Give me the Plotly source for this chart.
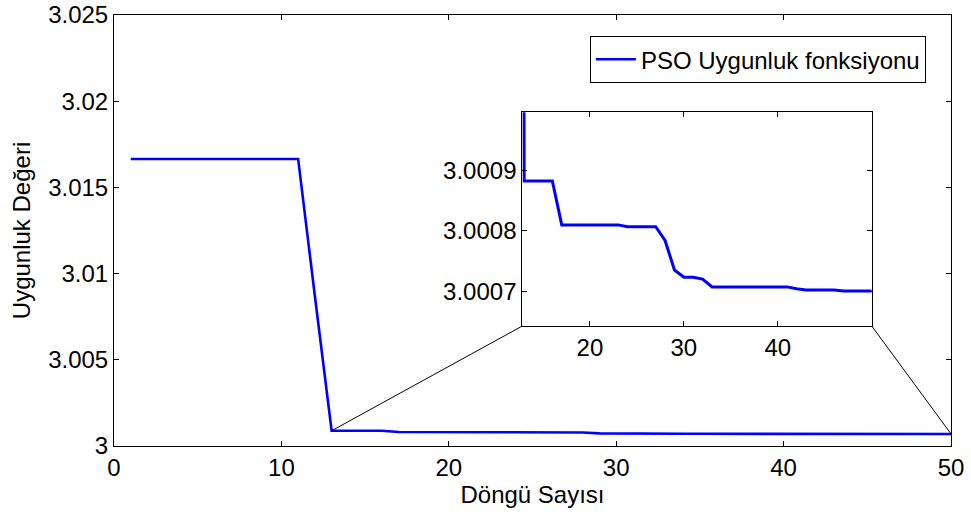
import plotly.graph_objects as go

# ---- data ----
iterations = list(range(1, 51))
fitness = (
    [3.01665] * 11 +                 # 1-11
    [3.0087] +                       # 12
    [3.000883] * 4 +                 # 13-16
    [3.000810] * 7 +                 # 17-23
    [3.000807] * 4 +                 # 24-27
    [3.000784, 3.000735, 3.000723, 3.000723, 3.000720] +  # 28-32
    [3.000707] * 9 +                 # 33-41
    [3.000704] +                     # 42
    [3.000702] * 4 +                 # 43-46
    [3.000700] * 4                   # 47-50
)
series_name = "PSO Uygunluk fonksiyonu"

main_x_range = [0, 50]
main_y_range = [3.0, 3.025]
main_x_ticks = [0, 10, 20, 30, 40, 50]
main_y_ticks = [3.0, 3.005, 3.01, 3.015, 3.02, 3.025]
main_y_ticktext = ["3", "3.005", "3.01", "3.015", "3.02", "3.025"]

inset_x_range = [12.8, 50]
inset_y_range = [3.000642, 3.000997]
inset_x_ticks = [20, 30, 40]
inset_y_ticks = [3.0007, 3.0008, 3.0009]
inset_y_ticktext = ["3.0007", "3.0008", "3.0009"]

x_title = "Döngü Sayısı"
y_title = "Uygunluk Değeri"

# ---- layout params ----
W, H = 971, 518
ML, MR, MT, MB = 114, 20, 15, 72
inset_dom_x = [0.4878, 0.9053]
inset_dom_y = [0.2784, 0.7742]
FONT = "Arial, Liberation Sans, sans-serif"
FS = 24
BLUE = "#0000FF"

fig = go.Figure()
fig.add_trace(go.Scatter(x=iterations, y=fitness, mode="lines", name=series_name,
                         line=dict(color=BLUE, width=2.6), xaxis="x", yaxis="y"))
fig.add_trace(go.Scatter(x=iterations, y=fitness, mode="lines", name=series_name,
                         showlegend=False, line=dict(color=BLUE, width=3),
                         xaxis="x2", yaxis="y2", cliponaxis=True))

axis_common = dict(showgrid=False, zeroline=False, showline=True, linecolor="black",
                   linewidth=1, mirror="ticks", ticks="inside", ticklen=5,
                   tickcolor="black", tickfont=dict(family=FONT, size=FS, color="black"))

fig.update_layout(
    width=W, height=H,
    margin=dict(l=ML, r=MR, t=MT, b=MB, autoexpand=False),
    paper_bgcolor="white", plot_bgcolor="white",
    font=dict(family=FONT, size=FS, color="black"),
    xaxis=dict(range=main_x_range, tickvals=main_x_ticks, domain=[0, 1],
               title=dict(text=x_title, font=dict(size=FS), standoff=4), **axis_common),
    yaxis=dict(range=main_y_range, tickvals=main_y_ticks, ticktext=main_y_ticktext,
               domain=[0, 1], title=dict(text=y_title, font=dict(size=FS), standoff=10),
               **axis_common),
    xaxis2=dict(range=inset_x_range, tickvals=inset_x_ticks, domain=inset_dom_x,
                anchor="y2", **axis_common),
    yaxis2=dict(range=inset_y_range, tickvals=inset_y_ticks, ticktext=inset_y_ticktext,
                domain=inset_dom_y, anchor="x2", **axis_common),
    legend=dict(x=0.970, y=0.951, xanchor="right", yanchor="top",
                bgcolor="white", bordercolor="black", borderwidth=1,
                font=dict(family=FONT, size=FS, color="black"),
                itemwidth=40, tracegroupgap=0),
    showlegend=True,
)

# inset background (white) covering main plot
fig.add_shape(type="rect", xref="paper", yref="paper",
              x0=inset_dom_x[0], x1=inset_dom_x[1], y0=inset_dom_y[0], y1=inset_dom_y[1],
              fillcolor="white", line=dict(width=0), layer="below")

# connector lines: from main-curve points to inset bottom corners (main data coords)
def paper_to_main(px, py):
    mx = main_x_range[0] + px * (main_x_range[1] - main_x_range[0])
    my = main_y_range[0] + py * (main_y_range[1] - main_y_range[0])
    return mx, my

i13 = iterations.index(13)
ix_end = len(iterations) - 1
cx0, cy0 = paper_to_main(inset_dom_x[0], inset_dom_y[0])
cx1, cy1 = paper_to_main(inset_dom_x[1], inset_dom_y[0])
fig.add_shape(type="line", xref="x", yref="y", x0=iterations[i13], y0=fitness[i13],
              x1=cx0, y1=cy0, line=dict(color="black", width=1))
fig.add_shape(type="line", xref="x", yref="y", x0=iterations[ix_end], y0=fitness[ix_end],
              x1=cx1, y1=cy1, line=dict(color="black", width=1))

fig.write_html("out.html")
